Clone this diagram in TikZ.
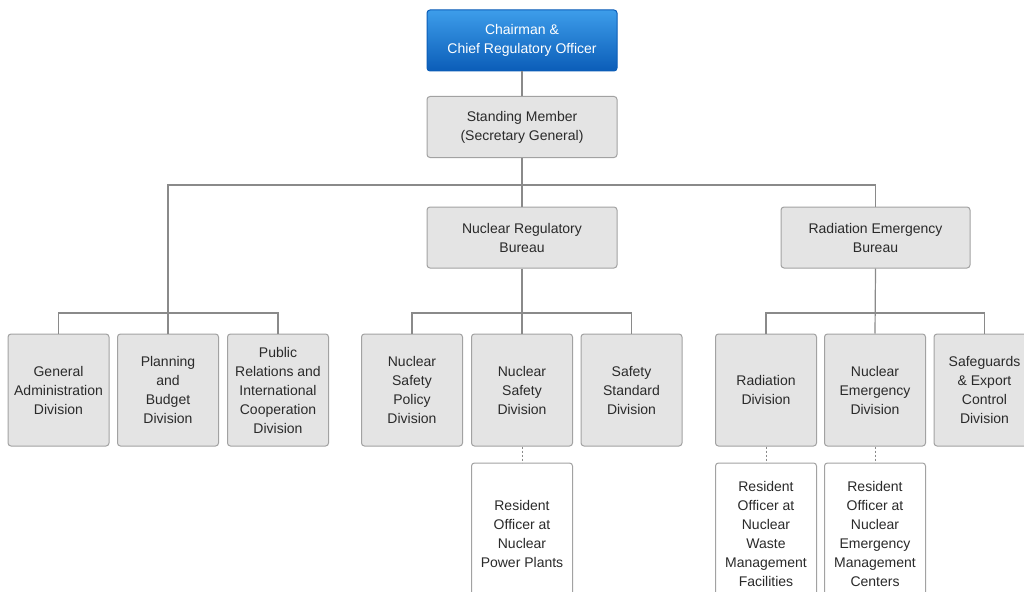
\documentclass[tikz,border=0pt]{standalone}
\usepackage{fontspec}
\setmainfont{Liberation Sans}
\definecolor{boxfill}{HTML}{E4E4E4}
\definecolor{boxline}{HTML}{A2A2A2}
\definecolor{conn}{HTML}{8A8A8A}
\definecolor{bluetop}{HTML}{3D9DEA}
\definecolor{bluebot}{HTML}{0B5DB8}
\definecolor{txt}{HTML}{2A2A2A}
\begin{document}
\begin{tikzpicture}[x=1pt,y=-1pt,
  unit/.style={rectangle, rounded corners=3pt, draw=boxline, line width=1pt,
    fill=boxfill, inner sep=0pt, align=center, text=txt,
    font=\fontsize{14}{19}\selectfont},
  bureau/.style={unit, minimum width=190, minimum height=61},
  divbox/.style={unit, minimum width=101, minimum height=112},
  resbox/.style={unit, fill=white, minimum width=101, minimum height=142},
  headbox/.style={unit, draw=bluebot, top color=bluetop, bottom color=bluebot,
    text=white, minimum width=190, minimum height=61},
  link/.style={draw=conn, line width=1.2pt},
  dotlink/.style={link, dashed, dash pattern=on 2pt off 2pt, line width=1pt}]
\useasboundingbox (0,0) rectangle (1024,591);
\fill[white] (0,0) rectangle (1024,591);
\clip (0,0) rectangle (1024,591);

\node[headbox] (chair) at (522,40.5) {Chairman \&\\Chief Regulatory Officer};
\node[bureau] (sm) at (522,127) {Standing Member\\(Secretary General)};
\node[bureau] (nrb) at (522,237.5) {Nuclear Regulatory\\Bureau};
\node[bureau, minimum width=189] (reb) at (875.5,237.5) {Radiation Emergency\\Bureau};

\node[divbox] (ga) at (58.5,390) {General\\Administration\\Division};
\node[divbox] (pb) at (168,390) {Planning\\and\\Budget\\Division};
\node[divbox] (pr) at (278,390) {Public\\Relations and\\International\\Cooperation\\Division};
\node[divbox] (nsp) at (412,390) {Nuclear\\Safety\\Policy\\Division};
\node[divbox] (ns) at (522,390) {Nuclear\\Safety\\Division};
\node[divbox] (ss) at (631.5,390) {Safety\\Standard\\Division};
\node[divbox] (rd) at (766,390) {Radiation\\Division};
\node[divbox] (ned) at (875,390) {Nuclear\\Emergency\\Division};
\node[divbox] (sec) at (984.5,390) {Safeguards\\\& Export\\Control\\Division};

\node[resbox] (rnpp) at (522,534) {Resident\\Officer at\\Nuclear\\Power Plants};
\node[resbox] (rwm) at (766,534) {Resident\\Officer at\\Nuclear\\Waste\\Management\\Facilities};
\node[resbox] (rem) at (875,534) {Resident\\Officer at\\Nuclear\\Emergency\\Management\\Centers};

\coordinate (jtop) at (522,185);
\coordinate (jl) at (168,313);
\coordinate (jm) at (522,313);
\coordinate (jr) at (875,313);

\draw[link] (chair.south) -- (sm.north);
\draw[link] (sm.south) -- (nrb.north);
\draw[link] (pb.north) |- (jtop) -| (reb.north);
\draw[link] (ga.north) |- (jl) -| (pr.north);
\draw[link] (nrb.south) -- (ns.north);
\draw[link] (nsp.north) |- (jm) -| (ss.north);
\draw[link] (reb.south) -- (ned.north);
\draw[link] (rd.north) |- (jr) -| (sec.north);
\draw[dotlink] (ns.south) -- (rnpp.north);
\draw[dotlink] (rd.south) -- (rwm.north);
\draw[dotlink] (ned.south) -- (rem.north);
\end{tikzpicture}
\end{document}
